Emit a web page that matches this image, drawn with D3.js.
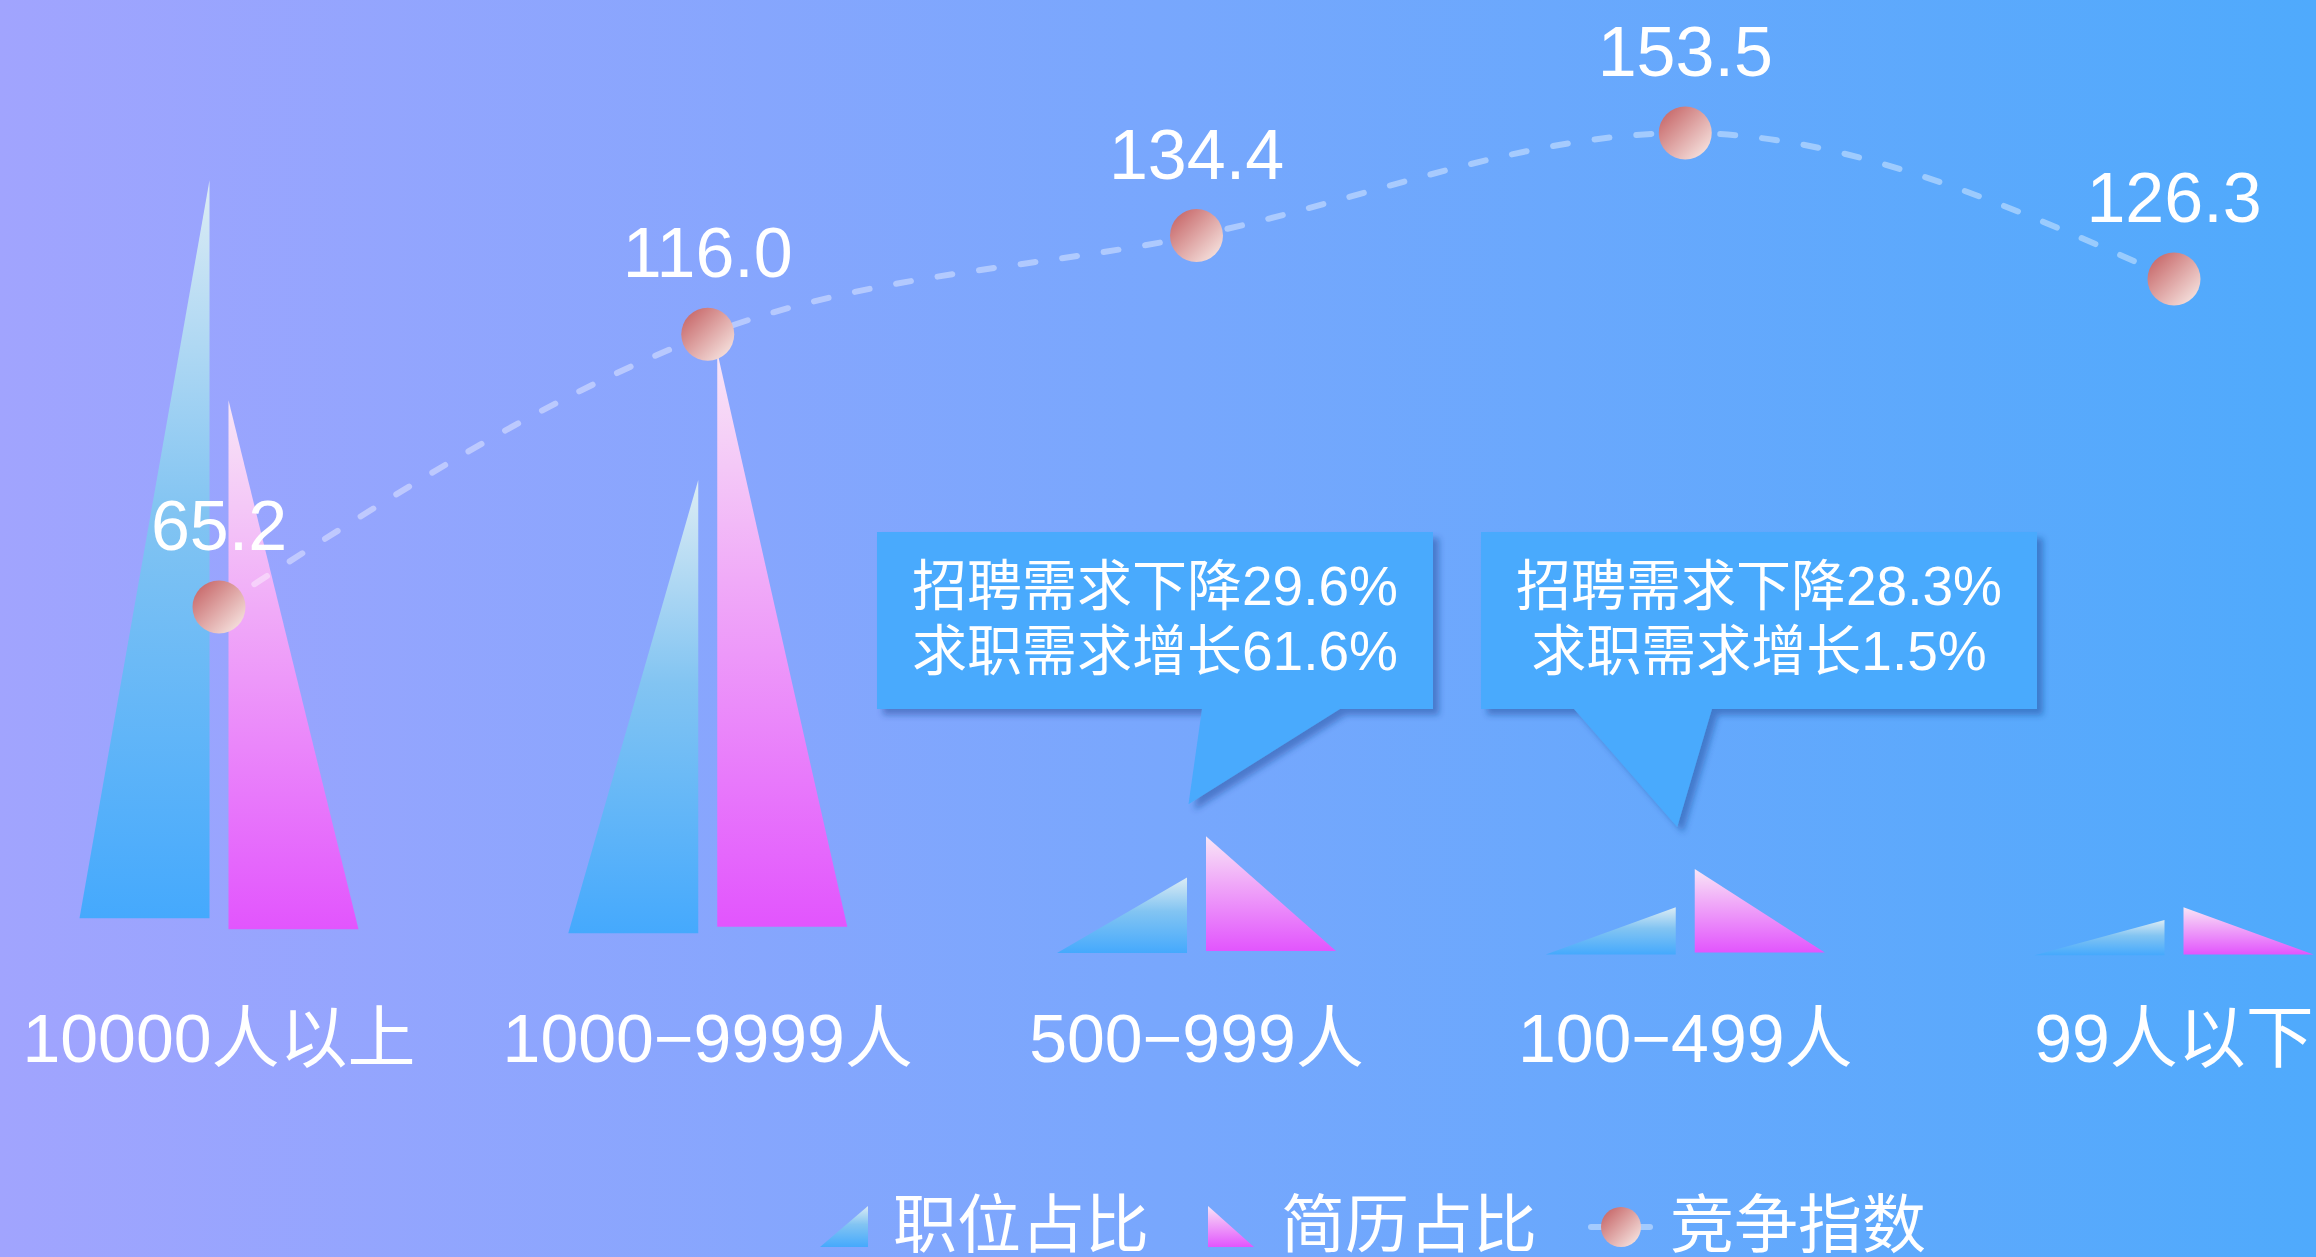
<!DOCTYPE html>
<meta charset="utf-8">
<title>竞争指数</title>
<head>
  <script src="https://d3js.org/d3.v7.min.js"></script>
  <style>
    html, body { margin: 0; padding: 0; overflow: hidden; }
    text { font-family: "Liberation Sans", "Noto Sans CJK SC", sans-serif; fill: #fff; }
  </style>
</head>
<body>
  <div id="chart"></div>
  <script>
    var width = 2316
    var height = 1257

    // data
    var categories = ["10000人以上", "1000-9999人", "500-999人", "100-499人", "99人以下"]
    var jobShare = [54.7, 33.6, 5.6, 3.5, 2.6]      // 职位占比 (%)
    var resumeShare = [39.2, 42.6, 8.5, 6.2, 3.5]   // 简历占比 (%)
    var competition = [65.2, 116.0, 134.4, 153.5, 126.3]  // 竞争指数
    var seriesNames = ["职位占比", "简历占比", "竞争指数"]
    var notes = [
      { cat: "500-999人", lines: ["招聘需求下降29.6%", "求职需求增长61.6%"] },
      { cat: "100-499人", lines: ["招聘需求下降28.3%", "求职需求增长1.5%"] }
    ]

    var baseY = 957

    var svg = d3.select("#chart").append("svg")
      .attr("width", width)
      .attr("height", height)

    var defs = svg.append("defs")

    // background
    var bg = defs.append("linearGradient").attr("id", "bg")
      .attr("x1", 0).attr("y1", 0).attr("x2", 1).attr("y2", 0)
    bg.append("stop").attr("offset", 0).attr("stop-color", "#a1a4fe")
    bg.append("stop").attr("offset", 1).attr("stop-color", "#4faafc")

    var gBlue = defs.append("linearGradient").attr("id", "gBlue")
      .attr("x1", 0).attr("y1", 0).attr("x2", 0).attr("y2", 1)
    gBlue.append("stop").attr("offset", 0).attr("stop-color", "#dcecf4")
    gBlue.append("stop").attr("offset", 0.45).attr("stop-color", "#82c4f2")
    gBlue.append("stop").attr("offset", 1).attr("stop-color", "#45a9fd")

    var gPink = defs.append("linearGradient").attr("id", "gPink")
      .attr("x1", 0).attr("y1", 0).attr("x2", 0).attr("y2", 1)
    gPink.append("stop").attr("offset", 0).attr("stop-color", "#f8e6f6")
    gPink.append("stop").attr("offset", 0.4).attr("stop-color", "#f0aaf8")
    gPink.append("stop").attr("offset", 1).attr("stop-color", "#e255fd")

    var gDot = defs.append("linearGradient").attr("id", "gDot")
      .attr("x1", 0).attr("y1", 0).attr("x2", 1).attr("y2", 1)
    gDot.append("stop").attr("offset", 0).attr("stop-color", "#c25a5c")
    gDot.append("stop").attr("offset", 1).attr("stop-color", "#fbf0ec")

    var shadow = defs.append("filter").attr("id", "shadow")
      .attr("x", "-10%").attr("y", "-10%").attr("width", "130%").attr("height", "140%")
    shadow.append("feDropShadow")
      .attr("dx", 6).attr("dy", 6).attr("stdDeviation", 3)
      .attr("flood-color", "#1d3f8f").attr("flood-opacity", 0.45)

    svg.append("rect").attr("width", width).attr("height", height).attr("fill", "url(#bg)")

    var x = d3.scalePoint().domain(categories).range([219, 2174])
    var yPct = d3.scaleLinear().domain([0, 60]).range([baseY, baseY - 60 * 14.2])
    var yIdx = d3.scaleLinear().domain([0, 160]).range([baseY, baseY - 160 * 5.368])

    var triW = 130, gap = 9.5

    // bars drawn as right triangles
    function triBottom(top) { return baseY - 0.05 * (baseY - top) }

    svg.append("g").selectAll("path")
      .data(jobShare)
      .enter().append("path")
      .attr("fill", "url(#gBlue)")
      .attr("d", function(d, i) {
        var xr = x(categories[i]) - gap, t = yPct(d), b = triBottom(t)
        return "M" + (xr - triW) + "," + b + "L" + xr + "," + b + "L" + xr + "," + t + "Z"
      })

    svg.append("g").selectAll("path")
      .data(resumeShare)
      .enter().append("path")
      .attr("fill", "url(#gPink)")
      .attr("d", function(d, i) {
        var xl = x(categories[i]) + gap, t = yPct(d), b = triBottom(t)
        return "M" + xl + "," + t + "L" + xl + "," + b + "L" + (xl + triW) + "," + b + "Z"
      })

    // callouts
    var boxW = 556, boxH = 177, boxTop = 532
    var boxLeft = [877, 1481]
    notes.forEach(function(n, k) {
      var ci = categories.indexOf(n.cat)
      var cx = x(n.cat)
      var tallest = Math.min(yPct(jobShare[ci]), yPct(resumeShare[ci]))
      var bl = boxLeft[k], bb = boxTop + boxH
      var tipX = cx - 8, tipY = tallest - (k == 0 ? 32 : 42)
      var t1 = k == 0 ? bl + 325 : bl + 93
      var pts = [[bl, boxTop], [bl + boxW, boxTop], [bl + boxW, bb], [t1 + 138, bb],
                 [tipX, tipY], [t1, bb], [bl, bb]]
      var g = svg.append("g")
      g.append("path")
        .attr("d", "M" + pts.join("L") + "Z")
        .attr("fill", "#48aafd")
        .attr("filter", "url(#shadow)")
      g.selectAll("text")
        .data(n.lines)
        .enter().append("text")
        .attr("x", bl + boxW / 2)
        .attr("y", function(d, j) { return boxTop + 54 + j * 65 })
        .attr("text-anchor", "middle")
        .attr("font-size", 55)
        .attr("dominant-baseline", "central")
        .text(function(d) { return d })
    })

    // competition line
    var line = d3.line()
      .x(function(d, i) { return x(categories[i]) })
      .y(function(d) { return yIdx(d) })
      .curve(d3.curveMonotoneX)

    svg.append("path")
      .datum(competition)
      .attr("d", line)
      .attr("fill", "none")
      .attr("stroke", "rgba(255,255,255,0.4)")
      .attr("stroke-width", 6)
      .attr("stroke-linecap", "round")
      .attr("stroke-dasharray", "15,27")

    svg.append("g").selectAll("circle")
      .data(competition)
      .enter().append("circle")
      .attr("cx", function(d, i) { return x(categories[i]) })
      .attr("cy", function(d) { return yIdx(d) })
      .attr("r", 26.5)
      .attr("fill", "url(#gDot)")

    svg.append("g").selectAll("text")
      .data(competition)
      .enter().append("text")
      .attr("x", function(d, i) { return x(categories[i]) })
      .attr("y", function(d) { return yIdx(d) - 57 })
      .attr("text-anchor", "middle")
      .attr("font-size", 70)
      .text(function(d) { return d.toFixed(1) })

    // category labels (the picture shows a long dash)
    svg.append("g").selectAll("text")
      .data(categories)
      .enter().append("text")
      .attr("x", function(d) { return x(d) })
      .attr("y", 1062)
      .attr("text-anchor", "middle")
      .attr("font-size", 68)
      .text(function(d) { return d.replace("-", "−") })

    // legend
    var lg = svg.append("g")
    var ly = 1227
    lg.append("path").attr("fill", "url(#gBlue)")
      .attr("d", "M820,1247L868,1247L868,1206Z")
    lg.append("path").attr("fill", "url(#gPink)")
      .attr("d", "M1208,1206L1208,1247L1254,1247Z")
    lg.append("line").attr("x1", 1591).attr("x2", 1650).attr("y1", ly).attr("y2", ly)
      .attr("stroke", "rgba(255,255,255,0.4)").attr("stroke-width", 6).attr("stroke-linecap", "round")
    lg.append("circle").attr("cx", 1621).attr("cy", ly).attr("r", 20).attr("fill", "url(#gDot)")
    var legendX = [893, 1281, 1670]
    lg.selectAll("text")
      .data(seriesNames)
      .enter().append("text")
      .attr("x", function(d, i) { return legendX[i] })
      .attr("y", ly - 2)
      .attr("dominant-baseline", "central")
      .attr("font-size", 64)
      .text(function(d) { return d })
  </script>
</body>
